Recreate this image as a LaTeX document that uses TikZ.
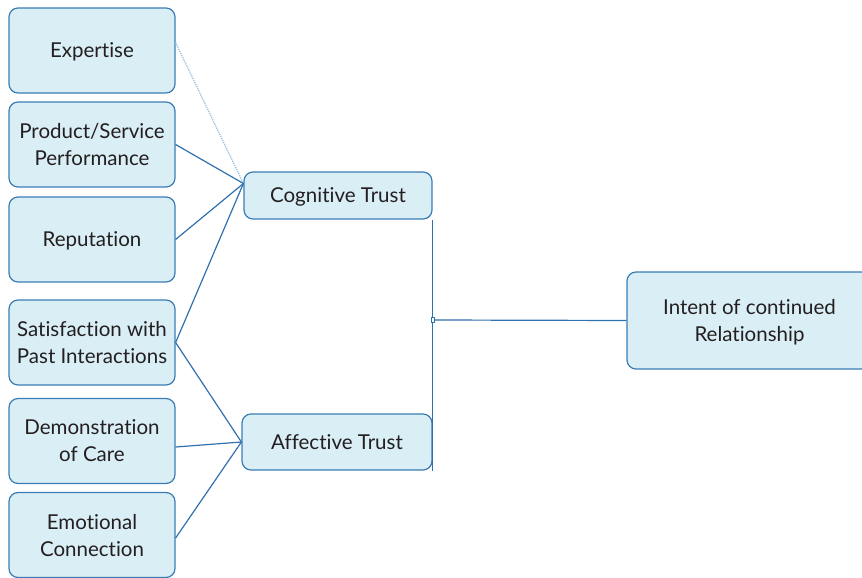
\documentclass[tikz,border=0pt]{standalone}
\usepackage{fontspec}
\setmainfont{Lato}[Ligatures=NoCommon]
\definecolor{boxfill}{HTML}{DAEEF5}
\definecolor{boxdraw}{HTML}{3A7DB5}
\definecolor{linec}{HTML}{2F70AE}
\definecolor{lightline}{HTML}{9CC3DF}
\definecolor{txt}{HTML}{231F20}
\tikzset{
  box/.style={draw=boxdraw, fill=boxfill, line width=1.2pt, rounded corners=9pt,
    text=txt, align=center, font=\fontsize{20.5}{27}\selectfont, inner sep=0pt, text depth=0pt},
  leftbox/.style={box, minimum width=166pt, minimum height=85pt},
  conn/.style={draw=linec, line width=1.2pt},
}
\begin{document}
\begin{tikzpicture}[x=1pt,y=-1pt]
\useasboundingbox (0,0) rectangle (862,578);
\node[leftbox] (exp) at (92,50.5) {Expertise};
\node[leftbox] (prod) at (92,144.5) {Product/Service\\Performance};
\node[leftbox] (rep) at (92,239.5) {Reputation};
\node[leftbox] (sat) at (92,342.5) {Satisfaction with\\Past Interactions};
\node[leftbox] (dem) at (92,441) {Demonstration\\of Care};
\node[leftbox] (emo) at (92,535) {Emotional\\Connection};
\node[box, minimum width=188pt, minimum height=47pt] (cog) at (338,195.5) {Cognitive Trust};
\node[box, minimum width=190pt, minimum height=56pt] (aff) at (337,442) {Affective Trust};
\node[box, minimum width=245pt, minimum height=97pt] (int) at (749.5,320.5) {Intent of continued\\Relationship};
\coordinate (cin) at ([yshift=12pt]cog.west);
\draw[draw=lightline, line width=1.3pt, densely dotted] ([yshift=8pt]exp.east) -- (cin);
\draw[conn] (prod.east) -- (cin);
\draw[conn] (rep.east) -- (cin);
\draw[conn] (sat.east) -- (cin);
\draw[conn] (sat.east) -- (aff.west);
\draw[conn] ([yshift=-6pt]dem.east) -- (aff.west);
\draw[conn] ([yshift=-3pt]emo.east) -- (aff.west);
\draw[conn] (cog.south east) -- (aff.south east);
\node[draw=linec, fill=white, line width=0.8pt, minimum width=3pt, minimum height=5pt, inner sep=0pt] (jn) at (433,320) {};
\draw[conn] (jn.east) -- (int.west);
\end{tikzpicture}
\end{document}
